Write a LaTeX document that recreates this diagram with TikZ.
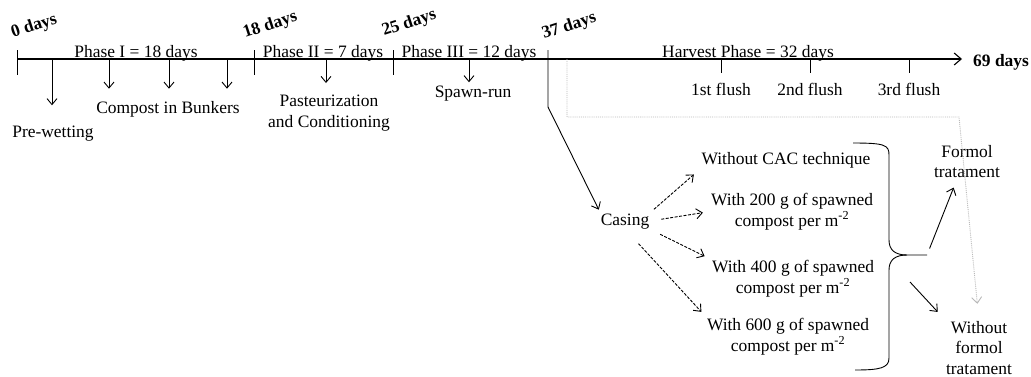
\documentclass[tikz,border=0pt]{standalone}
\usepackage{fontspec}
\setmainfont{Liberation Serif}
\usepackage{tikz}
\usetikzlibrary{arrows.meta, calc}

\newcommand{\figfont}{\fontsize{17.5}{21}\selectfont}

\begin{document}
\begin{tikzpicture}[
  x=1bp, y=-1bp,
  lbl/.style={font=\figfont, inner sep=0pt},
  opt/.style={font=\figfont, inner sep=0pt, align=center},
  day/.style={font=\figfont\bfseries, inner sep=0pt, rotate=18, anchor=base west},
  axis/.style={line width=1.1bp, -{Straight Barb[length=7bp, width=12bp]}},
  tick/.style={line width=0.9bp},
  darr/.style={line width=0.9bp, -{Straight Barb[length=6bp, width=10bp]}},
  dasharr/.style={darr, dash pattern=on 3bp off 1.5bp},
  dotline/.style={gray!55, line width=0.9bp, densely dotted},
]
\useasboundingbox (0,0) rectangle (1031,376);

% ---- Time axis -------------------------------------------------------------
\coordinate (d0)  at (17,59);
\coordinate (d18) at (254,59);
\coordinate (d25) at (393,59);
\coordinate (d37) at (548,59);
\coordinate (d69) at (962,59);
\draw[axis] (d0) -- (d69);
\foreach \c in {d0,d18,d25}
  \draw[tick] ($(\c)+(0,-9)$) -- ++(0,25);

\node[day] (lab0)  at (13,38)  {0 days};
\node[day] (lab18) at (245,38) {18 days};
\node[day] (lab25) at (384,36) {25 days};
\node[day] (lab37) at (544,39) {37 days};
\node[lbl, anchor=base west] (lab69) at (973,66) {\bfseries 69 days};

% ---- Phases ----------------------------------------------------------------
\node[lbl, anchor=base] (ph1) at (136,57) {Phase I = 18 days};
\node[lbl, anchor=base] (ph2) at (323,57) {Phase II = 7 days};
\node[lbl, anchor=base] (ph3) at (469,57) {Phase III = 12 days};
\node[lbl, anchor=base] (ph4) at (748,57) {Harvest Phase = 32 days};

% ---- Phase I ---------------------------------------------------------------
\node[lbl, anchor=base] (prewet)  at (53,137)  {Pre-wetting};
\node[lbl, anchor=base] (compost) at (168,113) {Compost in Bunkers};
\coordinate (pw) at (52,59);
\draw[darr, shorten >=20bp] (pw) -- (pw |- prewet.north);
\foreach \x/\n in {109/cb1, 169/cb2, 227/cb3} {
  \coordinate (\n) at (\x,59);
  \draw[darr, shorten >=12bp] (\n) -- (\n |- compost.north);
}

% ---- Phase II / III --------------------------------------------------------
\node[opt] (past) at (329,113)
  {Pasteurization\\and Conditioning};
\coordinate (pa) at (326,59);
\draw[darr] (pa) -- ++(0,24);
\node[lbl, anchor=base] (spawn) at (473,97) {Spawn-run};
\coordinate (sp) at (469,59);
\draw[darr, shorten >=3bp] (sp) -- (sp |- spawn.north);

% ---- Harvest ---------------------------------------------------------------
\foreach \x/\n/\t in {721/f1/1st, 810/f2/2nd, 909/f3/3rd} {
  \coordinate (\n) at (\x,59);
  \draw[tick] (\n) -- ++(0,14);
  \node[lbl, anchor=base] (\n lab) at (\x,95) {\t\ flush};
}

% ---- Casing ----------------------------------------------------------------
\node[lbl, anchor=base] (casing) at (625,225) {Casing};
\coordinate (bend) at (548,107);
\draw[darr, shorten >=4bp] ($(d37)+(0,-9)$) -- (bend) -- (casing.north west);

\node[lbl, anchor=base] (optA) at (786,164) {Without CAC technique};
\node[opt] (optB) at (792,211.4)
  {With 200 g of spawned\\compost per m\textsuperscript{-2}};
\node[opt] (optC) at (793,278.4)
  {With 400 g of spawned\\compost per m\textsuperscript{-2}};
\node[opt] (optD) at (788,336.4)
  {With 600 g of spawned\\compost per m\textsuperscript{-2}};

\draw[dasharr, shorten <=6bp, shorten >=10bp] (casing.north east) -- (optA.south west);
\draw[dasharr, shorten <=12bp, shorten >=8bp] (casing.east) -- (optB.west);
\draw[dasharr, shorten <=12bp, shorten >=8bp] (casing.south east) -- (optC.north west);
\draw[dasharr, shorten <=20bp, shorten >=8bp] (casing.south) -- (optD.north west);

% ---- Brace and treatment ---------------------------------------------------
\draw[line width=0.9bp] (853,143) .. controls (885,143) and (889,145) .. (889,155)
  -- (889,240) .. controls (889,250) and (895,255) .. (907,255) -- (927,255);
\draw[line width=0.9bp] (907,255) .. controls (895,255) and (889,260) .. (889,270)
  -- (889,358) .. controls (889,368) and (880,370) .. (855,370);
\coordinate (brtip) at (927,255);
\coordinate (lowstart) at (910,282);

\node[opt] (formol) at (967,161.5) {Formol\\tratament};
\node[opt] (woform) at (979,348) {Without\\formol\\tratament};

\draw[darr, shorten <=7bp, shorten >=10bp] (brtip) -- (formol.-120);
\draw[darr, shorten >=12bp] (lowstart) -- (woform.north west);

% ---- Harvest link (dotted) -------------------------------------------------
\coordinate (dA) at (567,59);
\coordinate (dB) at (567,117);
\coordinate (dC) at (959,117);
\draw[dotline, -{Straight Barb[length=6bp, width=10bp]}, shorten >=17bp]
  (dA) -- (dB) -- (dC) -- (woform.north);

\end{tikzpicture}
\end{document}
